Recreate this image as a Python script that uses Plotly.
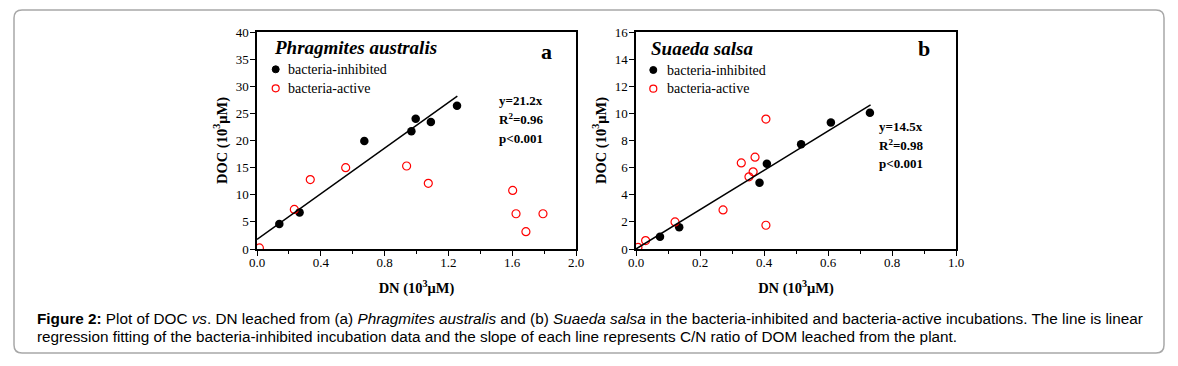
import plotly.graph_objects as go

# page body has an 8px margin: figure occupies the window minus it
OFF = 8
W, H = 1178 - 2 * OFF, 366 - 2 * OFF

# Panel a: Phragmites australis
a_inh_x = [0.14, 0.267, 0.673, 0.968, 0.995, 1.09, 1.254]
a_inh_y = [4.6, 6.75, 19.9, 21.7, 24.0, 23.4, 26.4]
a_act_x = [0.015, 0.234, 0.334, 0.556, 0.938, 1.074, 1.603, 1.624, 1.686, 1.793]
a_act_y = [0.2, 7.3, 12.8, 15.0, 15.3, 12.1, 10.8, 6.5, 3.2, 6.5]
a_fit_x = [0.0, 1.256]
a_fit_y = [1.78, 28.2]

# Panel b: Suaeda salsa
b_inh_x = [0.075, 0.135, 0.386, 0.409, 0.516, 0.609, 0.731]
b_inh_y = [0.91, 1.6, 4.88, 6.28, 7.73, 9.33, 10.05]
b_act_x = [0.006, 0.03, 0.122, 0.272, 0.329, 0.353, 0.366, 0.372, 0.406, 0.406]
b_act_y = [0.12, 0.62, 2.0, 2.88, 6.35, 5.32, 5.69, 6.77, 9.58, 1.75]
b_fit_x = [0.0, 0.733]
b_fit_y = [0.0, 10.63]

series_names = ["bacteria-inhibited", "bacteria-active"]
species = ["Phragmites australis", "Suaeda salsa"]
panel_letters = ["a", "b"]
stats_a = ["y=21.2x", "R<sup>2</sup>=0.96", "p<0.001"]
stats_b = ["y=14.5x", "R<sup>2</sup>=0.98", "p<0.001"]
caption = [
    "<b>Figure 2:</b> Plot of DOC <i>vs</i>. DN leached from (a) <i>Phragmites australis</i> and (b) <i>Suaeda salsa</i> in the bacteria-inhibited and bacteria-active incubations. The line is linear",
    "regression fitting of the bacteria-inhibited incubation data and the slope of each line represents C/N ratio of DOM leached from the plant.",
]

SERIF = "Liberation Serif"
SANS = "Liberation Sans"


def px_x(v):
    return (v - OFF) / W


def px_y(v):
    return 1 - (v - OFF) / H


fig = go.Figure()


def add_panel(xa, ya, ix, iy, ax_, ay_, fx, fy):
    fig.add_trace(go.Scatter(x=ix, y=iy, mode="markers", name=series_names[0],
                             xaxis=xa, yaxis=ya, showlegend=False,
                             marker=dict(color="black", size=8.5, symbol="circle")))
    fig.add_trace(go.Scatter(x=ax_, y=ay_, mode="markers", name=series_names[1],
                             xaxis=xa, yaxis=ya, showlegend=False,
                             marker=dict(color="red", size=8, symbol="circle-open",
                                         line=dict(width=1.2, color="red"))))
    fig.add_trace(go.Scatter(x=fx, y=fy, mode="lines", showlegend=False,
                             xaxis=xa, yaxis=ya, line=dict(color="black", width=1.5)))


add_panel("x", "y", a_inh_x, a_inh_y, a_act_x, a_act_y, a_fit_x, a_fit_y)
add_panel("x2", "y2", b_inh_x, b_inh_y, b_act_x, b_act_y, b_fit_x, b_fit_y)

tickfont = dict(family=SERIF, size=13, color="black")
titlefont = dict(family=SERIF, size=14.5, color="black", weight="bold")


def xaxis(domain, rng, dtick, anchor):
    return dict(domain=domain, range=rng, dtick=dtick, tick0=0, tickformat=".1f",
                showgrid=False, zeroline=False, showline=True, linecolor="black",
                linewidth=1.5, mirror=True, ticks="outside", ticklen=5, tickwidth=1,
                tickcolor="black", tickfont=tickfont, anchor=anchor, ticklabelstandoff=-4,
                minor=dict(ticks="outside", ticklen=3, tickwidth=1, tickcolor="black",
                           dtick=dtick / 2, showgrid=False),
                title=dict(text="DN (10<sup>3</sup>μM)", font=titlefont, standoff=14))


def yaxis(domain, rng, dtick, anchor):
    return dict(domain=domain, range=rng, dtick=dtick, tick0=0,
                showgrid=False, zeroline=False, showline=True, linecolor="black",
                linewidth=1.5, mirror=True, ticks="outside", ticklen=5, tickwidth=1,
                tickcolor="black", tickfont=tickfont, anchor=anchor, ticklabelstandoff=-1,
                title=dict(text="DOC (10<sup>3</sup>μM)", font=titlefont, standoff=5))


ydom = [px_y(249), px_y(32)]
fig.update_layout(
    width=W, height=H, margin=dict(l=0, r=0, t=0, b=0, autoexpand=False),
    paper_bgcolor="white", plot_bgcolor="white", showlegend=False,
    xaxis=xaxis([px_x(257), px_x(576)], [0, 2.0], 0.4, "y"),
    yaxis=yaxis(ydom, [0, 40], 5, "x"),
    xaxis2=xaxis([px_x(636), px_x(956)], [0, 1.0], 0.2, "y2"),
    yaxis2=yaxis(ydom, [0, 16], 2, "x2"),
)

ann = []
shapes = []


def text(t, x, y, size, family=SERIF, xanchor="left", **kw):
    ann.append(dict(text=t, x=px_x(x), y=px_y(y), xref="paper", yref="paper",
                    xanchor=xanchor, yanchor="middle", showarrow=False, align="left",
                    font=dict(family=family, size=size, color="black", **kw)))


def legend_block(spx, spy, mx, my1, my2, tx, sp):
    text(species[sp], spx, spy, 19, weight="bold", style="italic")
    r = 3.5
    shapes.append(dict(type="circle", xref="paper", yref="paper",
                       x0=px_x(mx - r), x1=px_x(mx + r), y0=px_y(my1 + r), y1=px_y(my1 - r),
                       fillcolor="black", line=dict(color="black", width=1)))
    shapes.append(dict(type="circle", xref="paper", yref="paper",
                       x0=px_x(mx - r), x1=px_x(mx + r), y0=px_y(my2 + r), y1=px_y(my2 - r),
                       fillcolor="rgba(0,0,0,0)", line=dict(color="red", width=1.2)))
    text(series_names[0], tx, my1, 14)
    text(series_names[1], tx, my2, 14)


legend_block(272, 47, 275.7, 69.3, 88.3, 285.5, 0)
legend_block(649, 49, 653.3, 70, 88.7, 664.5, 1)

text("<b>%s</b>" % panel_letters[0], 546, 52, 22, xanchor="center")
text("<b>%s</b>" % panel_letters[1], 924, 49, 22, xanchor="center")

for i, s in enumerate(stats_a):
    text("<b>%s</b>" % s, 497, 100 + 19 * i, 13)
for i, s in enumerate(stats_b):
    text("<b>%s</b>" % s, 877, 126 + 18.5 * i, 13)

text(caption[0], 35, 318, 15.3, family=SANS)
text(caption[1], 35, 336, 15.3, family=SANS)

fig.update_layout(annotations=ann)

# rounded border box
x0, y0, x1, y1, rr = px_x(14), px_y(10), px_x(1164), px_y(353), 8
rx, ry = rr / W, rr / H
path = (f"M {x0+rx},{y0} L {x1-rx},{y0} Q {x1},{y0} {x1},{y0-ry} "
        f"L {x1},{y1+ry} Q {x1},{y1} {x1-rx},{y1} L {x0+rx},{y1} "
        f"Q {x0},{y1} {x0},{y1+ry} L {x0},{y0-ry} Q {x0},{y0} {x0+rx},{y0} Z")
shapes.append(dict(type="path", path=path, xref="paper", yref="paper",
                   line=dict(color="#a8a8a8", width=1.5), fillcolor="rgba(0,0,0,0)",
                   layer="below"))
fig.update_layout(shapes=shapes)

fig.write_html("out.html")
